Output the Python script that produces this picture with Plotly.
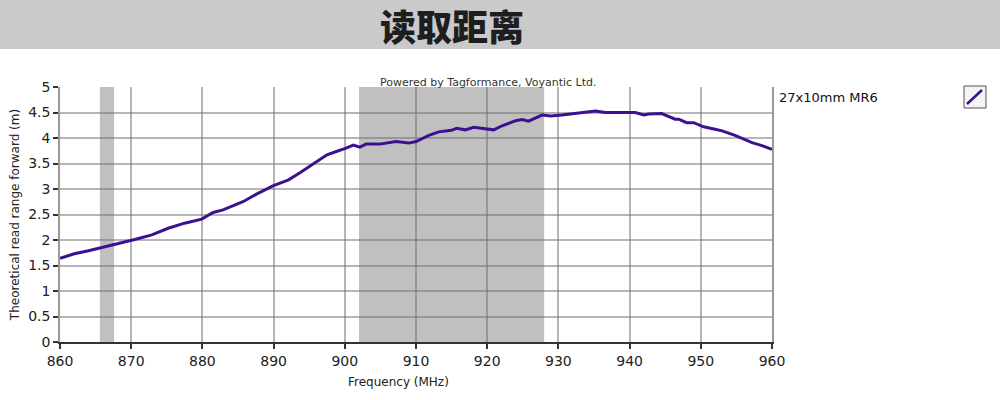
import plotly.graph_objects as go

freq_mhz = [860, 862, 864, 865.8, 867.5, 869.1, 870.5, 872.9, 875.2, 877.5, 879.9,
            881.5, 882.9, 885.7, 887.6, 889.9, 892.1, 893.7, 895.6, 897.5, 899.3,
            900, 901.2, 902.1, 903, 904.9, 907.2, 909, 910, 911.8, 913.2, 915.0,
            915.7, 916.9, 918.1, 919.7, 920.9, 922.1, 924, 924.9, 925.8, 927.7,
            928.9, 930.5, 932.9, 935.2, 936.6, 939.9, 940.8, 942, 942.7, 944.5,
            945.5, 946.4, 946.9, 948, 949, 950.4, 952, 953, 954.8, 957.2, 958.6, 960]
read_range_m = [1.64, 1.73, 1.79, 1.85, 1.90, 1.96, 2.01, 2.10, 2.23, 2.33, 2.41,
                2.54, 2.59, 2.75, 2.90, 3.06, 3.18, 3.32, 3.50, 3.67, 3.76,
                3.79, 3.86, 3.82, 3.88, 3.88, 3.93, 3.90, 3.93, 4.05, 4.12, 4.15,
                4.19, 4.16, 4.21, 4.18, 4.16, 4.24, 4.34, 4.36, 4.33, 4.45,
                4.43, 4.45, 4.49, 4.53, 4.50, 4.50, 4.50, 4.45, 4.47, 4.48,
                4.43, 4.37, 4.37, 4.30, 4.30, 4.22, 4.17, 4.14, 4.05, 3.91, 3.85, 3.78]
bands_mhz = [(865.6, 867.6), (902.0, 928.0)]
x_ticks = [860, 870, 880, 890, 900, 910, 920, 930, 940, 950, 960]
y_ticks = [0, 0.5, 1, 1.5, 2, 2.5, 3, 3.5, 4, 4.5, 5]
y_tick_text = ["0", "0.5", "1", "1.5", "2", "2.5", "3", "3.5", "4", "4.5", "5"]
series_name = "27x10mm MR6"
title_text = "读取距离"

W, H = 1000, 400
L, R, T, B = 60, 228, 87, 58
pw, ph = W - L - R, H - T - B

def px(x):
    return (x - L) / pw

def py(y):
    return (H - B - y) / ph

line_color = "#3b1190"
font_fam = "DejaVu Sans, Verdana, sans-serif"

fig = go.Figure()
fig.add_trace(go.Scatter(x=freq_mhz, y=read_range_m, mode="lines",
                         line=dict(color=line_color, width=3), name=series_name,
                         showlegend=False))

shapes = []
for a, b in bands_mhz:
    shapes.append(dict(type="rect", xref="x", yref="paper", x0=a, x1=b, y0=0, y1=1,
                       fillcolor="#c0c0c0", line=dict(width=0), layer="below"))
# banner
shapes.append(dict(type="rect", xref="paper", yref="paper", x0=px(0), x1=px(W),
                   y0=py(49), y1=py(0), fillcolor="#cacaca", line=dict(width=0)))
# legend icon box
shapes.append(dict(type="rect", xref="paper", yref="paper", x0=px(964), x1=px(986),
                   y0=py(108), y1=py(86), fillcolor="#f4f4f4",
                   line=dict(color="#555555", width=1)))
shapes.append(dict(type="line", xref="paper", yref="paper", x0=px(967), x1=px(982),
                   y0=py(104), y1=py(90), line=dict(color=line_color, width=2.5)))

annotations = [
    dict(text=title_text, xref="paper", yref="paper", x=px(452), y=py(25),
         xanchor="center", yanchor="middle", showarrow=False,
         font=dict(family="Noto Sans CJK SC", size=36, color="#1e1e1e", weight=900)),
    dict(text="Powered by Tagformance, Voyantic Ltd.", xref="paper", yref="paper",
         x=px(488), y=py(82), xanchor="center", yanchor="middle", showarrow=False,
         font=dict(family=font_fam, size=11, color="#333333")),
    dict(text=series_name, xref="paper", yref="paper", x=px(777), y=py(97),
         xanchor="left", yanchor="middle", showarrow=False,
         font=dict(family=font_fam, size=13, color="#111111")),
    dict(text="Frequency (MHz)", xref="paper", yref="paper", x=px(398), y=py(382),
         xanchor="center", yanchor="middle", showarrow=False,
         font=dict(family=font_fam, size=12, color="#222222")),
]

fig.update_layout(
    width=W, height=H, margin=dict(l=L, r=R, t=T, b=B, autoexpand=False),
    paper_bgcolor="white", plot_bgcolor="white",
    shapes=shapes, annotations=annotations,
    xaxis=dict(range=[860, 960], tickvals=x_ticks, showgrid=True,
               gridcolor="rgba(110,110,110,0.5)", gridwidth=1.5,
               showline=True, linecolor="#333333", linewidth=1.5,
               ticks="outside", ticklen=5, tickcolor="#333333", tickwidth=1.5,
               tickfont=dict(family=font_fam, size=14, color="#222222"), zeroline=False),
    yaxis=dict(range=[0, 5], tickvals=y_ticks, ticktext=y_tick_text, showgrid=True,
               gridcolor="rgba(110,110,110,0.5)", gridwidth=1.5,
               showline=True, linecolor="#999999", linewidth=1.5, mirror=True,
               ticks="outside", ticklen=5, tickcolor="#333333", tickwidth=1.5,
               tickfont=dict(family=font_fam, size=14, color="#222222"), zeroline=False,
               title=dict(text="Theoretical read range forward (m)", standoff=6,
                          font=dict(family=font_fam, size=12, color="#222222"))),
)
fig.write_html("out.html", config={"displayModeBar": False},
               post_script="document.body.style.margin='0';document.body.style.overflow='hidden';")
